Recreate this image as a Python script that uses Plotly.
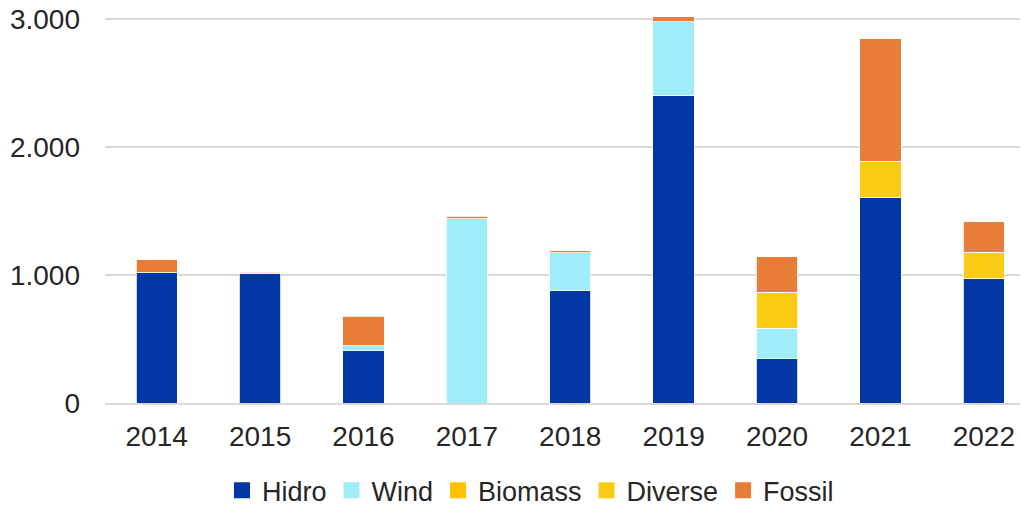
import plotly.graph_objects as go

years = ["2014", "2015", "2016", "2017", "2018", "2019", "2020", "2021", "2022"]
hidro = [1017, 1010, 407, 0, 882, 2405, 345, 1602, 970]
wind = [0, 0, 42, 1440, 290, 572, 240, 0, 0]
biomass = [0, 0, 0, 0, 0, 0, 0, 0, 0]
diverse = [0, 0, 0, 0, 0, 0, 280, 287, 209]
fossil = [100, 10, 227, 20, 17, 40, 277, 955, 235]

series = [
    ("Hidro", hidro, "#0037A5"),
    ("Wind", wind, "#A1ECF9"),
    ("Biomass", biomass, "#FFC000"),
    ("Diverse", diverse, "#FACB14"),
    ("Fossil", fossil, "#E87D37"),
]

fig = go.Figure()
for name, vals, col in series:
    fig.add_trace(go.Bar(
        x=years, y=vals, name=name, showlegend=False,
        marker=dict(color=col, line=dict(color="white", width=0.8)),
        cliponaxis=False,
    ))
# legend entries with larger square symbols
for name, vals, col in series:
    fig.add_trace(go.Scatter(
        x=[None], y=[None], mode="markers", name=name,
        marker=dict(symbol="square", size=16, color=col),
        showlegend=True,
    ))

fig.update_layout(
    barmode="stack",
    bargap=0.6,
    width=1023, height=506,
    margin=dict(l=105, r=3, t=17, b=103, autoexpand=False),
    paper_bgcolor="white",
    plot_bgcolor="white",
    separators=",.",
    font=dict(family="Liberation Sans, Arial, sans-serif", size=28, color="#262626"),
    legend=dict(
        orientation="h", x=0.465, xanchor="center",
        yref="container", y=0.03, yanchor="middle",
        font=dict(size=27), traceorder="normal", itemwidth=30,
    ),
    showlegend=True,
)
fig.update_xaxes(
    range=[-0.5, 8.35],
    showline=True, linecolor="#D9D9D9", linewidth=1.5,
    showgrid=False, ticks="", tickfont=dict(size=28),
    ticklabelstandoff=8,
)
fig.update_yaxes(
    range=[0, 3015], tickvals=[0, 1000, 2000, 3000], tickformat=",d",
    showgrid=True, gridcolor="#D9D9D9", gridwidth=1.5,
    zeroline=False, showline=False, ticks="",
    tickfont=dict(size=28), ticklabelstandoff=24,
)

fig.write_html(
    "out.html",
    config={"displayModeBar": False},
    post_script="document.body.style.margin='0';document.body.style.overflow='hidden';",
)
